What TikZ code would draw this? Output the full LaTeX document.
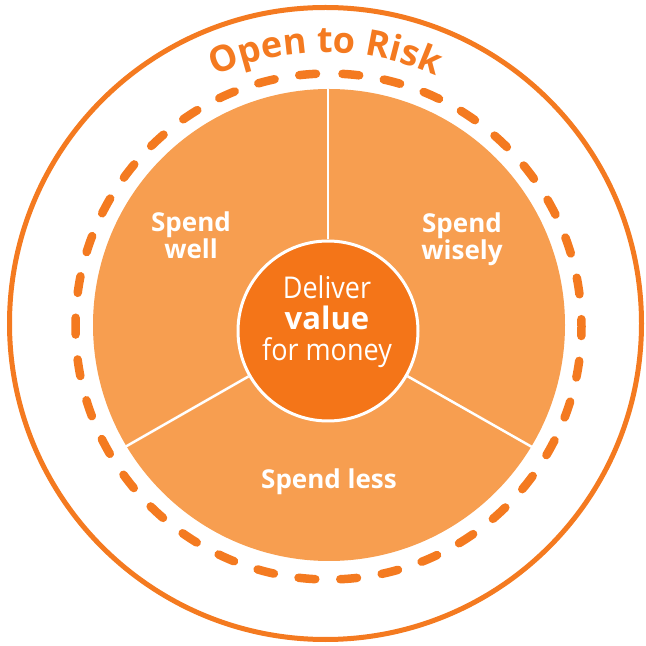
\documentclass[tikz,border=0pt]{standalone}
\usepackage{fontspec}
\setmainfont{Open Sans}
\newfontfamily\narrowfont{Open Sans}[FakeStretch=0.9]
\usetikzlibrary{decorations.text}
\definecolor{ring}{HTML}{F47A20}
\definecolor{pie}{HTML}{F79E50}
\definecolor{kern}{HTML}{F47518}
\tikzset{
  divider/.style={white, line width=2.5pt},
  spendtext/.style={text=white, align=center, inner sep=0pt,
    font=\bfseries\fontsize{26}{25}\selectfont},
}
\begin{document}
\begin{tikzpicture}[x=1pt,y=1pt]
    \useasboundingbox (0,0) rectangle (646,646);
    % Mittelpunkte
    \coordinate (mitte) at (325.5,322.5);
    \coordinate (hub) at (328,315);
    % Außenkreis
    \draw[ring, line width=5pt] (mitte) circle[radius=316];
    % gestrichelter Kreis
    \draw[ring, line width=8.5pt, line cap=round,
        dash pattern=on 16.8pt off 25pt, dash phase=29.3pt]
        (328.5,319.5) ++(90:253) arc[start angle=90, end angle=450, radius=253];
    % Schrift oben auf dem Bogen
    \path[decorate, decoration={text along path, text align=center, text color=ring,
        text={|\bfseries\fontsize{36}{36}\selectfont|Open to Risk}}]
        (mitte) ++(150:271) arc[start angle=150, end angle=30, radius=271];
    % Tortenfläche
    \fill[pie] (329,321) circle[radius=236];
    % Kern
    \node[circle, fill=kern, draw=white, line width=3pt, minimum size=180pt, inner sep=0pt]
        (core) at (hub) {};
    % Trennlinien
    \coordinate (rimA) at (328,557);
    \coordinate (rimB) at (125,199);
    \coordinate (rimC) at (532,199);
    \draw[divider] (core) -- (rimA);
    \draw[divider] (core) -- (rimB);
    \draw[divider] (core) -- (rimC);
    % Beschriftung
    \node[text=white, align=center, inner sep=0pt,
        font=\narrowfont\fontsize{30}{31}\selectfont]
        (motto) at (327,324) {Deliver\\{\rmfamily\bfseries\fontsize{31}{31}\selectfont value}\\for money};
    \node[spendtext] (well) at (191,411) {Spend\\well};
    \node[spendtext] (wisely) at (462,407) {Spend\\wisely};
    \node[spendtext] (less) at (329,164) {Spend less};
\end{tikzpicture}
\end{document}
